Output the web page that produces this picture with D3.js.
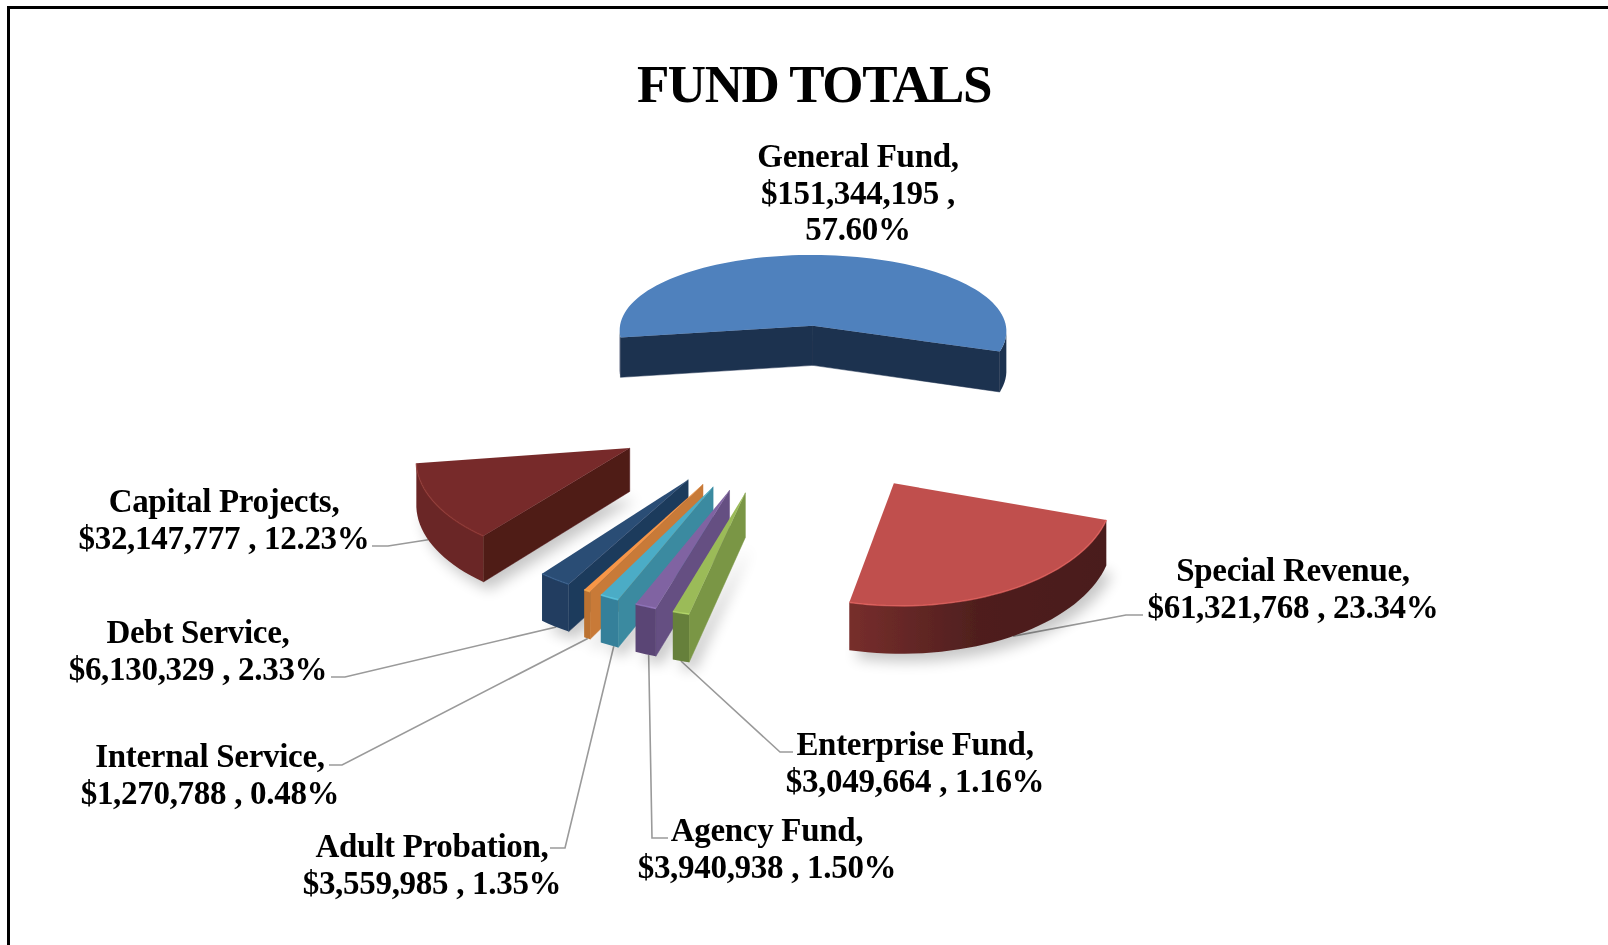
<!DOCTYPE html>
<html>
<head>
<meta charset="utf-8">
<script src="https://cdn.jsdelivr.net/npm/d3@7"></script>
<style>
  html, body { margin: 0; padding: 0; background: #fff; overflow: hidden; }
  text { font-family: "Liberation Serif", serif; font-weight: 700; fill: #000; }
</style>
</head>
<body>
<svg id="chart" width="1608" height="945"></svg>
<script>
const FUNDS = ["General Fund", "Special Revenue", "Enterprise Fund", "Agency Fund",
  "Adult Probation", "Internal Service", "Debt Service", "Capital Projects"];
const AMOUNTS = [151344195, 61321768, 3049664, 3940938, 3559985, 1270788, 6130329, 32147777];
const AMOUNT_LABELS = ["$151,344,195", "$61,321,768", "$3,049,664", "$3,940,938",
  "$3,559,985", "$1,270,788", "$6,130,329", "$32,147,777"];
const PERCENT_LABELS = ["57.60%", "23.34%", "1.16%", "1.50%", "1.35%", "0.48%", "2.33%", "12.23%"];

const TOP_COLORS = ["#4f81bd", "#c0504d", "#9bbb59", "#8064a2", "#4bacc6", "#f79646", "#2c4d75", "#772c2a"];
const CUT_COLORS = ["#1f3350", "#4d1f1e", "#7a9645", "#654f82", "#3a8aa0", "#c87a38", "#1f3a5c", "#501a17"];
const WALL_COLORS = ["#1f3350", "#6f2a28", "#66803b", "#5a4474", "#35809a", "#bb7230", "#203d60", "#6a2625"];

// projection of the pie plane, all fitted by eye against the picture
const CX = 797, CY = 403;
const RADIUS = 205, EXPLODE = 188, TILT = 0.45, HEIGHT = 42;
const PERSP_X = 3000, PERSP_Y = 2040;
const START_ANGLE = -98.5 * Math.PI / 180;

// label anchors: center x and first baseline
const LABELS = [
  { x: 858, y: 167 }, { x: 1293, y: 581 }, { x: 915, y: 755 }, { x: 767, y: 841 },
  { x: 432, y: 857 }, { x: 210, y: 767 }, { x: 198, y: 643 }, { x: 224, y: 512 },
];
const LINE_HEIGHT = 36.5;

// leader: where on the rim it starts (0..1 along the slice arc), then elbow and end
const LEADERS = [
  null,
  { t: 0.5, elbow: [1126, 615], end: [1143, 615] },
  { t: 0.5, elbow: [780, 752], end: [793, 752] },
  { t: 0.35, elbow: [652, 838], end: [668, 838] },
  { t: 0.25, elbow: [565, 848], end: [550, 848] },
  { t: 0.4, elbow: [342, 765], end: [329, 765] },
  { t: 0.45, elbow: [345, 677], end: [331, 677] },
  { t: 0.6, elbow: [388, 546], end: [372, 546] },
];

const svg = d3.select("#chart");

function project(ang, r, slice, z) {
  // ang is clockwise from the back of the pie
  const gx = Math.sin(slice.bis) * EXPLODE + Math.sin(ang) * r;
  const gy = -Math.cos(slice.bis) * EXPLODE - Math.cos(ang) * r;
  const px = 1 / (1 - gy / PERSP_X);
  const py = 1 / (1 - gy / PERSP_Y);
  return [CX + gx * px, CY + gy * TILT * py + (1 - z) * HEIGHT * px];
}

const arcs = d3.pie().sort(null).startAngle(START_ANGLE).endAngle(START_ANGLE + 2 * Math.PI)(AMOUNTS);
arcs.forEach((d) => { d.bis = (d.startAngle + d.endAngle) / 2; });

const line = d3.line();

function rimPoints(d, z) {
  const steps = Math.max(4, Math.round((d.endAngle - d.startAngle) / 0.04));
  return d3.range(steps + 1).map((k) =>
    project(d.startAngle + (d.endAngle - d.startAngle) * k / steps, RADIUS, d, z));
}

const defs = svg.append("defs");
defs.append("filter").attr("id", "soft").attr("x", "-5%").attr("y", "-5%").attr("width", "110%").attr("height", "110%")
  .append("feGaussianBlur").attr("stdDeviation", 0.7);
defs.append("filter").attr("id", "softText").attr("x", "-2%").attr("y", "-5%").attr("width", "104%").attr("height", "110%")
  .append("feGaussianBlur").attr("stdDeviation", 0.35);
defs.append("filter").attr("id", "shadow").attr("x", "-20%").attr("y", "-20%").attr("width", "140%").attr("height", "140%")
  .append("feGaussianBlur").attr("stdDeviation", 7);

const specialRim = rimPoints(arcs[1], 0);
const specialWall = defs.append("linearGradient").attr("id", "wall1").attr("gradientUnits", "userSpaceOnUse")
  .attr("x1", specialRim[specialRim.length - 1][0]).attr("x2", specialRim[0][0]).attr("y1", 0).attr("y2", 0);
specialWall.append("stop").attr("offset", "0%").attr("stop-color", "#772e2c");
specialWall.append("stop").attr("offset", "50%").attr("stop-color", "#4f1f1e");
specialWall.append("stop").attr("offset", "100%").attr("stop-color", "#4a1d1c");

// frame runs off the right edge of the page
svg.append("path").attr("d", "M8.5,945 V7.5 H1608").attr("fill", "none").attr("stroke", "#000").attr("stroke-width", 3);

const gText = svg.append("g").attr("filter", "url(#softText)");

gText.append("text").attr("x", 814).attr("y", 102).attr("text-anchor", "middle")
  .attr("font-size", 53).attr("letter-spacing", -1.4).text("FUND TOTALS");

const gLeaders = svg.append("g");
const gShadow = svg.append("g").attr("filter", "url(#shadow)").attr("opacity", 0.22);
const gPie = svg.append("g").attr("filter", "url(#soft)");

// back slice first, then the rest from the left-most round to the right
const drawOrder = [0, 7, 6, 5, 4, 3, 2, 1];

drawOrder.forEach((i) => {
  const d = arcs[i];
  const apexTop = project(0, 0, d, 1);
  const apexBot = project(0, 0, d, 0);
  const rimTop = rimPoints(d, 1);
  const rimBot = rimPoints(d, 0);
  const last = rimTop.length - 1;
  const g = gPie.append("g").attr("class", "slice");

  if (i !== 0) {
    gShadow.append("path").attr("fill", "#000")
      .attr("transform", "translate(6,8)")
      .attr("d", line([apexBot, ...rimBot]) + "Z");
  }

  // the two cut faces, only when they turn towards the viewer
  [0, last].forEach((k) => {
    const quad = [apexTop, rimTop[k], rimBot[k], apexBot];
    const area = d3.polygonArea(quad);
    if ((k === 0 && area > 0) || (k === last && area < 0)) {
      g.append("path").attr("fill", CUT_COLORS[i])
        .attr("stroke", CUT_COLORS[i]).attr("stroke-width", 0.5)
        .attr("d", line(quad) + "Z");
    }
  });

  // outer wall, only the runs of the rim on the near side
  const wallFill = i === 1 ? "url(#wall1)" : WALL_COLORS[i];
  let run = [];
  d3.range(last + 1).forEach((k) => {
    const near = k < last && rimTop[k + 1][0] < rimTop[k][0];
    if (near || run.length) run.push(k);
    if (!near && run.length) {
      g.append("path").attr("fill", wallFill)
        .attr("d", line([...run.map((m) => rimTop[m]), ...run.map((m) => rimBot[m]).reverse()]) + "Z");
      run = [];
    }
  });

  // top face and its bevel along the rim
  g.append("path").attr("fill", TOP_COLORS[i]).attr("d", line([apexTop, ...rimTop]) + "Z");
  if (i !== 0) {
    g.append("path").attr("fill", "none").attr("stroke", d3.color(TOP_COLORS[i]).brighter(0.5))
      .attr("stroke-width", 1.6).attr("opacity", 0.7).attr("d", line(rimTop));
  }
});

// leader lines
LEADERS.forEach((l, i) => {
  if (!l) return;
  const d = arcs[i];
  const start = project(d.startAngle + (d.endAngle - d.startAngle) * l.t, RADIUS, d, 0);
  gLeaders.append("path").attr("fill", "none").attr("stroke", "#9a9a9a").attr("stroke-width", 1.6)
    .attr("d", line([start, l.elbow, l.end]));
});

// data labels
FUNDS.forEach((name, i) => {
  const rows = i === 0
    ? [name + ",", AMOUNT_LABELS[i] + " ,", PERCENT_LABELS[i]]
    : [name + ",", AMOUNT_LABELS[i] + " , " + PERCENT_LABELS[i]];
  const t = gText.append("text").attr("font-size", 33).attr("letter-spacing", -0.3).attr("text-anchor", "middle");
  rows.forEach((row, k) => {
    t.append("tspan").attr("x", LABELS[i].x).attr("y", LABELS[i].y + k * LINE_HEIGHT).text(row);
  });
});
</script>
</body>
</html>
